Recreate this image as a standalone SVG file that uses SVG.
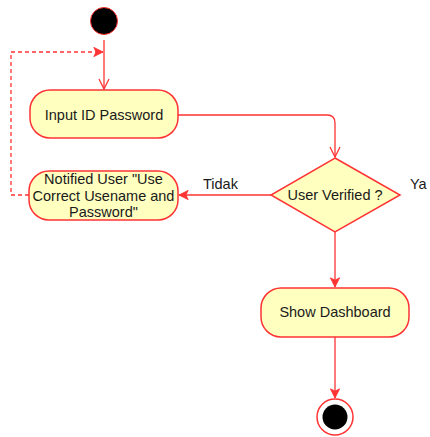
<svg xmlns="http://www.w3.org/2000/svg" width="430" height="437" viewBox="0 0 430 437">
<defs>
<style>
.node{fill:#ffffc0;stroke:#ff3333;stroke-width:1.5}
.edge{fill:none;stroke:#ff3333;stroke-width:1.3}
.dash{stroke-dasharray:4 3}
text{font-family:"Liberation Sans",Arial,sans-serif;font-size:14.5px;fill:#1a1a1a;text-anchor:middle}
.lbl{text-anchor:start}
</style>
<marker id="open" viewBox="0 0 12 12" refX="11" refY="6" markerWidth="12" markerHeight="12" markerUnits="userSpaceOnUse" orient="auto">
<path d="M1,1 L11,6 L1,11" fill="none" stroke="#ff3333" stroke-width="1.3"/>
</marker>
<marker id="fill" viewBox="0 0 12 12" refX="11" refY="6" markerWidth="11" markerHeight="11" markerUnits="userSpaceOnUse" orient="auto">
<path d="M1,1 L11,6 L1,11 L3.5,6 Z" fill="#ff3333" stroke="#ff3333" stroke-width="1"/>
</marker>
</defs>
<g id="connectors">
<path class="edge" d="M104,40 L104,89" marker-end="url(#open)"/>
<path class="edge" d="M178,115 L327,115 Q335,115 335,123 L335,157" marker-end="url(#open)"/>
<path class="edge" d="M271,195 L179,195" marker-end="url(#fill)"/>
<text class="lbl" x="203" y="189">Tidak</text>
<path class="edge dash" d="M29,195 L11,195 L11,52 L103,52" marker-end="url(#fill)"/>
<path class="edge" d="M335,232 L335,287" marker-end="url(#fill)"/>
<path class="edge" d="M335,337 L335,398" marker-end="url(#fill)"/>
<text class="lbl" x="410" y="189">Ya</text>
</g>
<g id="start">
<circle cx="104" cy="21" r="13.5" fill="#000" stroke="#ff3333" stroke-width="1"/>
</g>
<g id="input">
<rect class="node" x="30" y="90" width="148" height="48" rx="20"/>
<text x="104" y="120">Input ID Password</text>
</g>
<g id="decision">
<path class="node" d="M335,158 L400,195 L335,232 L271,195 Z"/>
<text x="335" y="200">User Verified ?</text>
</g>
<g id="notified">
<rect class="node" x="29" y="171" width="149" height="49" rx="20"/>
<text x="103.5" y="184">Notified User "Use</text>
<text x="103.5" y="200.5">Correct Usename and</text>
<text x="103.5" y="217">Password"</text>
</g>
<g id="dashboard">
<rect class="node" x="261" y="288" width="148" height="49" rx="20"/>
<text x="335" y="317">Show Dashboard</text>
</g>
<g id="end">
<circle cx="335" cy="417" r="18" fill="#fff" stroke="#ff3333" stroke-width="1.5"/>
<circle cx="335" cy="417" r="12.5" fill="#000"/>
</g>
</svg>
